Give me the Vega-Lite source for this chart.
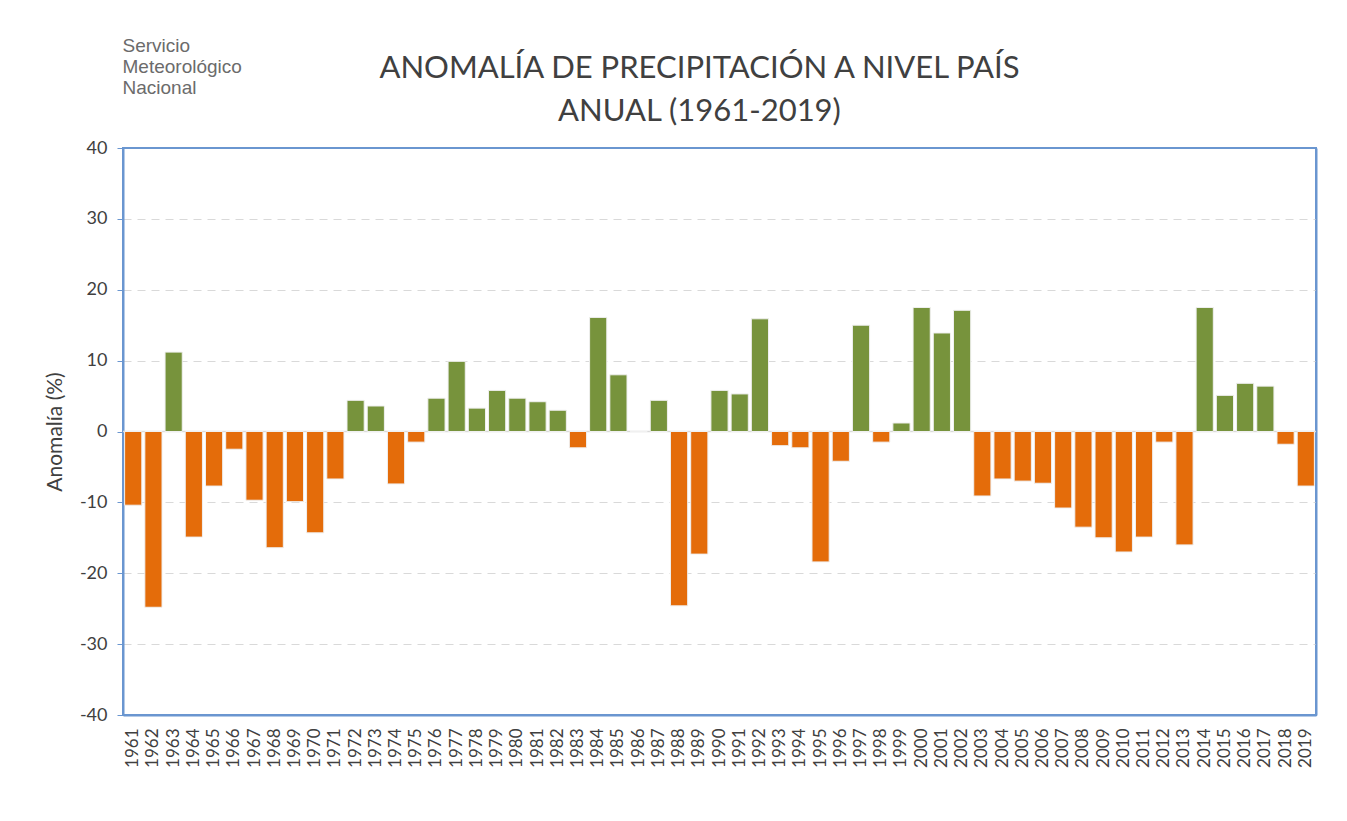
{
  "$schema": "https://vega.github.io/schema/vega-lite/v6.json",
  "autosize": {"type": "none"},
  "width": 1193,
  "height": 567,
  "padding": {"left": 123, "top": 148, "right": 31, "bottom": 106},
  "background": "white",
  "title": {
    "text": ["ANOMALÍA DE PRECIPITACIÓN A NIVEL PAÍS", "ANUAL (1961-2019)"],
    "font": "Lato",
    "fontSize": 31,
    "fontWeight": "normal",
    "color": "#404040",
    "anchor": "middle",
    "frame": "group",
    "dx": -20,
    "dy": 96,
    "lineHeight": 43
  },
  "config": {
    "view": {"stroke": "#6A96D0", "strokeWidth": 2},
    "axis": {"labelFont": "Lato", "titleFont": "Lato"}
  },
  "data": {
    "values": [
      {"anio": "1961", "anomalia": -10.4},
      {"anio": "1962", "anomalia": -24.8},
      {"anio": "1963", "anomalia": 11.2},
      {"anio": "1964", "anomalia": -14.9},
      {"anio": "1965", "anomalia": -7.7},
      {"anio": "1966", "anomalia": -2.5},
      {"anio": "1967", "anomalia": -9.7},
      {"anio": "1968", "anomalia": -16.4},
      {"anio": "1969", "anomalia": -9.9},
      {"anio": "1970", "anomalia": -14.3},
      {"anio": "1971", "anomalia": -6.7},
      {"anio": "1972", "anomalia": 4.4},
      {"anio": "1973", "anomalia": 3.6},
      {"anio": "1974", "anomalia": -7.4},
      {"anio": "1975", "anomalia": -1.5},
      {"anio": "1976", "anomalia": 4.7},
      {"anio": "1977", "anomalia": 9.9},
      {"anio": "1978", "anomalia": 3.3},
      {"anio": "1979", "anomalia": 5.8},
      {"anio": "1980", "anomalia": 4.7},
      {"anio": "1981", "anomalia": 4.2},
      {"anio": "1982", "anomalia": 3.0},
      {"anio": "1983", "anomalia": -2.3},
      {"anio": "1984", "anomalia": 16.1},
      {"anio": "1985", "anomalia": 8.0},
      {"anio": "1986", "anomalia": 0.0},
      {"anio": "1987", "anomalia": 4.4},
      {"anio": "1988", "anomalia": -24.6},
      {"anio": "1989", "anomalia": -17.3},
      {"anio": "1990", "anomalia": 5.8},
      {"anio": "1991", "anomalia": 5.3},
      {"anio": "1992", "anomalia": 15.9},
      {"anio": "1993", "anomalia": -2.0},
      {"anio": "1994", "anomalia": -2.3},
      {"anio": "1995", "anomalia": -18.4},
      {"anio": "1996", "anomalia": -4.2},
      {"anio": "1997", "anomalia": 15.0},
      {"anio": "1998", "anomalia": -1.5},
      {"anio": "1999", "anomalia": 1.2},
      {"anio": "2000", "anomalia": 17.5},
      {"anio": "2001", "anomalia": 13.9},
      {"anio": "2002", "anomalia": 17.1},
      {"anio": "2003", "anomalia": -9.1},
      {"anio": "2004", "anomalia": -6.7},
      {"anio": "2005", "anomalia": -7.0},
      {"anio": "2006", "anomalia": -7.3},
      {"anio": "2007", "anomalia": -10.8},
      {"anio": "2008", "anomalia": -13.5},
      {"anio": "2009", "anomalia": -15.0},
      {"anio": "2010", "anomalia": -17.0},
      {"anio": "2011", "anomalia": -14.9},
      {"anio": "2012", "anomalia": -1.5},
      {"anio": "2013", "anomalia": -16.0},
      {"anio": "2014", "anomalia": 17.5},
      {"anio": "2015", "anomalia": 5.1},
      {"anio": "2016", "anomalia": 6.8},
      {"anio": "2017", "anomalia": 6.4},
      {"anio": "2018", "anomalia": -1.8},
      {"anio": "2019", "anomalia": -7.7}
    ]
  },
  "layer": [
    {
      "data": {"values": [{"referencia": 0}]},
      "mark": {"type": "rule", "color": "#D9D9D9", "strokeWidth": 1.5},
      "encoding": {
        "y": {
          "field": "referencia",
          "type": "quantitative",
          "scale": {"domain": [-40, 40]},
          "axis": {
            "orient": "right",
            "labels": false,
            "ticks": false,
            "grid": false,
            "domainColor": "#6A96D0",
            "domainWidth": 2,
            "title": ["Servicio", "Meteorológico", "Nacional"],
            "titleAngle": 0,
            "titleAlign": "left",
            "titleBaseline": "alphabetic",
            "titleX": -1194,
            "titleY": -97,
            "titleFont": "Liberation Sans",
            "titleFontSize": 19,
            "titleFontWeight": "normal",
            "titleColor": "#6B6B6B",
            "titleLineHeight": 21
          }
        }
      }
    },
    {
      "mark": {"type": "bar", "stroke": "#F0F0F0", "strokeWidth": 1},
      "encoding": {
        "x": {
          "field": "anio",
          "type": "ordinal",
          "scale": {"paddingInner": 0.15, "paddingOuter": 0.08},
          "axis": {
            "title": null,
            "labelAngle": 270,
            "labelAlign": "right",
            "labelBaseline": "middle",
            "labelPadding": 13,
            "labelFontSize": 17,
            "labelColor": "#404040",
            "ticks": false,
            "domainColor": "#6A96D0",
            "domainWidth": 2
          }
        },
        "y": {
          "field": "anomalia",
          "type": "quantitative",
          "scale": {"domain": [-40, 40]},
          "axis": {
            "values": [-40, -30, -20, -10, 0, 10, 20, 30, 40],
            "labelExpr": "datum.value < 0 ? '-' + abs(datum.value) : '' + datum.value",
            "title": "Anomalía (%)",
            "titleFontSize": 21,
            "titleFontWeight": "normal",
            "titleColor": "#404040",
            "titlePadding": 14,
            "labelFontSize": 18,
            "labelColor": "#404040",
            "labelPadding": 10,
            "tickSize": 6,
            "tickColor": "#6A96D0",
            "domainColor": "#6A96D0",
            "domainWidth": 2,
            "grid": true,
            "gridColor": "#D9D9D9",
            "gridDash": [8, 6],
            "gridOpacity": {"condition": {"test": "abs(datum.value) == 40 || datum.value == 0", "value": 0}, "value": 1}
          }
        },
        "color": {"condition": {"test": "datum.anomalia >= 0", "value": "#77933C"}, "value": "#E46C0A"}
      }
    }
  ],
  "resolve": {"axis": {"y": "independent"}}
}
